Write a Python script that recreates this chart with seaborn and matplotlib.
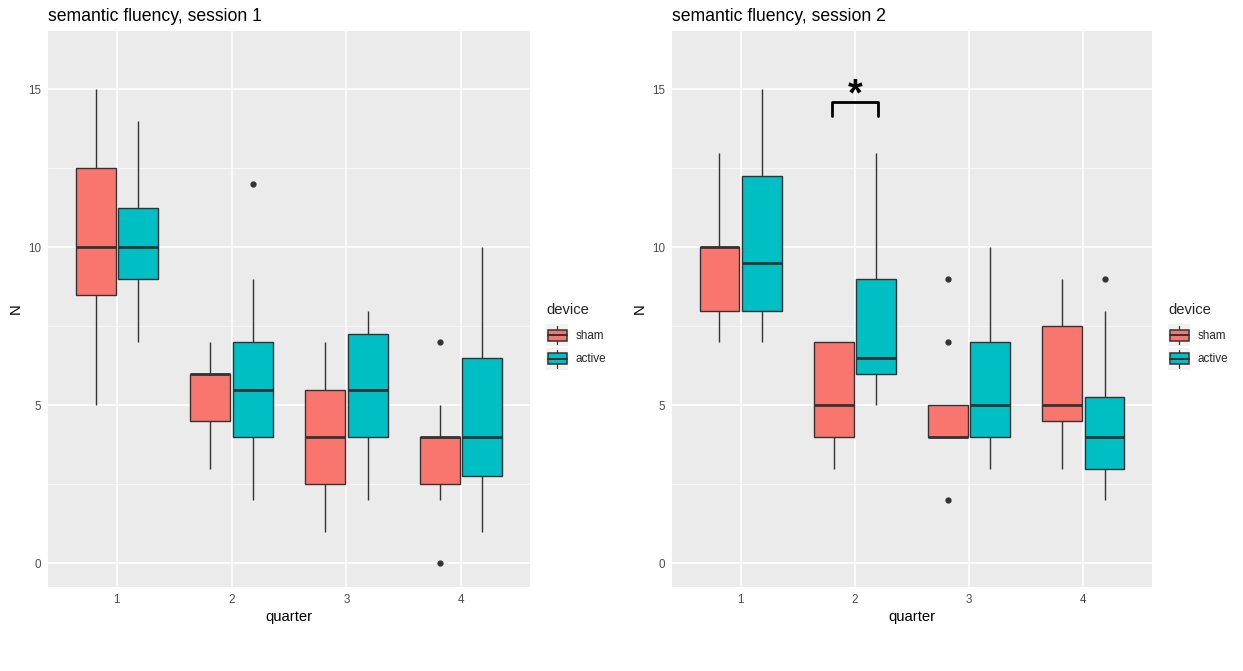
import pandas as pd
import seaborn as sns
import matplotlib.pyplot as plt
from matplotlib.legend_handler import HandlerBase
from matplotlib.patches import Rectangle
from matplotlib.lines import Line2D

quarters = ["1", "2", "3", "4"]
devices = ["sham", "active"]
colors = {"sham": "#F8766D", "active": "#00BFC4"}

# values per group (whisker ends, hinges, median, outliers)
s1_sham = {
    "1": [5, 7, 8.5, 9, 10, 11, 12.5, 14, 15],
    "2": [3, 4, 4.5, 5, 6, 6, 6, 7, 7],
    "3": [1, 2, 2.5, 3, 4, 5, 5.5, 6, 7],
    "4": [0, 2, 2.5, 3, 4, 4, 4, 5, 7],
}
s1_active = {
    "1": [7, 8, 9, 10, 10, 10, 11.25, 12, 14],
    "2": [2, 3, 4, 5, 5.5, 6, 7, 9, 12],
    "3": [2, 3, 4, 5, 5.5, 6, 7.25, 8, 8],
    "4": [1, 2, 2.75, 3, 4, 5, 6.5, 8, 10],
}
s2_sham = {
    "1": [7, 7, 8, 9, 10, 10, 10, 12, 13],
    "2": [3, 4, 4, 4.5, 5, 6, 7, 7, 7],
    "3": [2, 4, 4, 4, 4, 4, 5, 7, 9],
    "4": [3, 4, 4.5, 5, 5, 6, 7.5, 8, 9],
}
s2_active = {
    "1": [7, 8, 8, 9, 9.5, 11, 12.25, 14, 15],
    "2": [5, 6, 6, 6, 6.5, 8, 9, 11, 13],
    "3": [3, 4, 4, 4.5, 5, 6, 7, 8, 10],
    "4": [2, 3, 3, 3.5, 4, 5, 5.25, 8, 9],
}

# significance bracket, session 2, quarter 2
sig_quarter = "2"
sig_y_top = 14.6
sig_y_leg = 14.15
sig_label = "*"


def to_frame(sham, active):
    rows = []
    for dev, d in (("sham", sham), ("active", active)):
        for q in quarters:
            for v in d[q]:
                rows.append({"quarter": q, "device": dev, "N": v})
    return pd.DataFrame(rows)


sessions = [
    ("semantic fluency, session 1", to_frame(s1_sham, s1_active)),
    ("semantic fluency, session 2", to_frame(s2_sham, s2_active)),
]

sns.set_theme(style="darkgrid")
plt.rcParams["font.family"] = ["Liberation Sans", "DejaVu Sans"]
plt.rcParams.update({
    "axes.facecolor": "#EBEBEB",
    "grid.color": "white",
    "axes.edgecolor": "#EBEBEB",
})


class BoxKey(HandlerBase):
    # small boxplot glyph like ggplot's legend key
    def create_artists(self, legend, orig, xd, yd, w, h, fontsize, trans):
        x0, y0 = -xd, -yd
        bx = x0 + w * 0.08
        bw = w * 0.84
        by = y0 + h * 0.25
        bh = h * 0.5
        bg = Rectangle((x0, y0), w, h, facecolor="#F2F2F2",
                       edgecolor="none", transform=trans)
        r = Rectangle((bx, by), bw, bh, facecolor=orig.get_facecolor(),
                      edgecolor="#333333", lw=1.1, transform=trans)
        med = Line2D([bx, bx + bw], [by + bh / 2] * 2, color="#333333", lw=1.4,
                     transform=trans)
        wh1 = Line2D([x0 + w / 2] * 2, [by + bh, y0 + h * 0.92], color="#333333",
                     lw=0.9, transform=trans)
        wh2 = Line2D([x0 + w / 2] * 2, [by, y0 + h * 0.08], color="#333333",
                     lw=0.9, transform=trans)
        return [bg, wh1, wh2, r, med]


fig = plt.figure(figsize=(12.43, 6.71), dpi=100)
axes_pos = [
    [48 / 1243, 1 - 587 / 671, 482 / 1243, 556 / 671],
    [672 / 1243, 1 - 587 / 671, 480 / 1243, 556 / 671],
]

for i, (title, df) in enumerate(sessions):
    ax = fig.add_axes(axes_pos[i])
    sns.boxplot(
        data=df, x="quarter", y="N", hue="device",
        order=quarters, hue_order=devices, palette=colors,
        width=0.74, gap=0.06, whis=1.5, saturation=1,
        linecolor="#333333", linewidth=1, showcaps=False,
        medianprops={"linewidth": 2, "color": "#333333"},
        flierprops={"marker": "o", "markersize": 3.5,
                    "markerfacecolor": "#333333", "markeredgecolor": "#333333"},
        ax=ax,
    )
    ax.set_ylim(-0.75, 16.85)
    ax.set_xlim(-0.6, 3.6)
    ax.set_yticks([0, 5, 10, 15])
    ax.set_yticks([2.5, 7.5, 12.5], minor=True)
    ax.grid(True, which="major", color="white", lw=1.1)
    ax.grid(True, which="minor", axis="y", color="white", lw=0.5)
    ax.set_axisbelow(True)
    ax.tick_params(axis="both", which="major", length=3, width=0.8,
                   color="#333333", labelsize=8.4, labelcolor="#4D4D4D", pad=2)
    ax.tick_params(axis="y", which="minor", length=0)
    for s in ax.spines.values():
        s.set_visible(False)
    ax.set_xlabel("quarter", fontsize=10.6, color="black", labelpad=3)
    ax.set_ylabel("N", fontsize=10.6, color="black", labelpad=4)
    ax.set_title(title, loc="left", fontsize=12.7, color="black", pad=7)

    ax.get_legend().remove()
    handles = [Rectangle((0, 0), 1, 1, facecolor=colors[d]) for d in devices]
    leg = ax.legend(
        handles, devices, title="device", loc="center left",
        bbox_to_anchor=(1.012, 0.451), frameon=False,
        handler_map={Rectangle: BoxKey()},
        handlelength=1.9, handleheight=2.5, handletextpad=0.6,
        labelspacing=0.15, fontsize=8.4, title_fontsize=10.6,
        alignment="left",
    )
    leg._legend_box.sep = 5.5

    if i == 1:
        xq = quarters.index(sig_quarter)
        ax.plot([xq - 0.2, xq - 0.2, xq + 0.2, xq + 0.2],
                [sig_y_leg, sig_y_top, sig_y_top, sig_y_leg],
                color="black", lw=2, solid_joinstyle="round")
        ax.text(xq, sig_y_top - 0.35, sig_label, ha="center", va="bottom",
                fontsize=27, fontweight="bold", color="black")

fig.savefig("out.png", dpi=100)
